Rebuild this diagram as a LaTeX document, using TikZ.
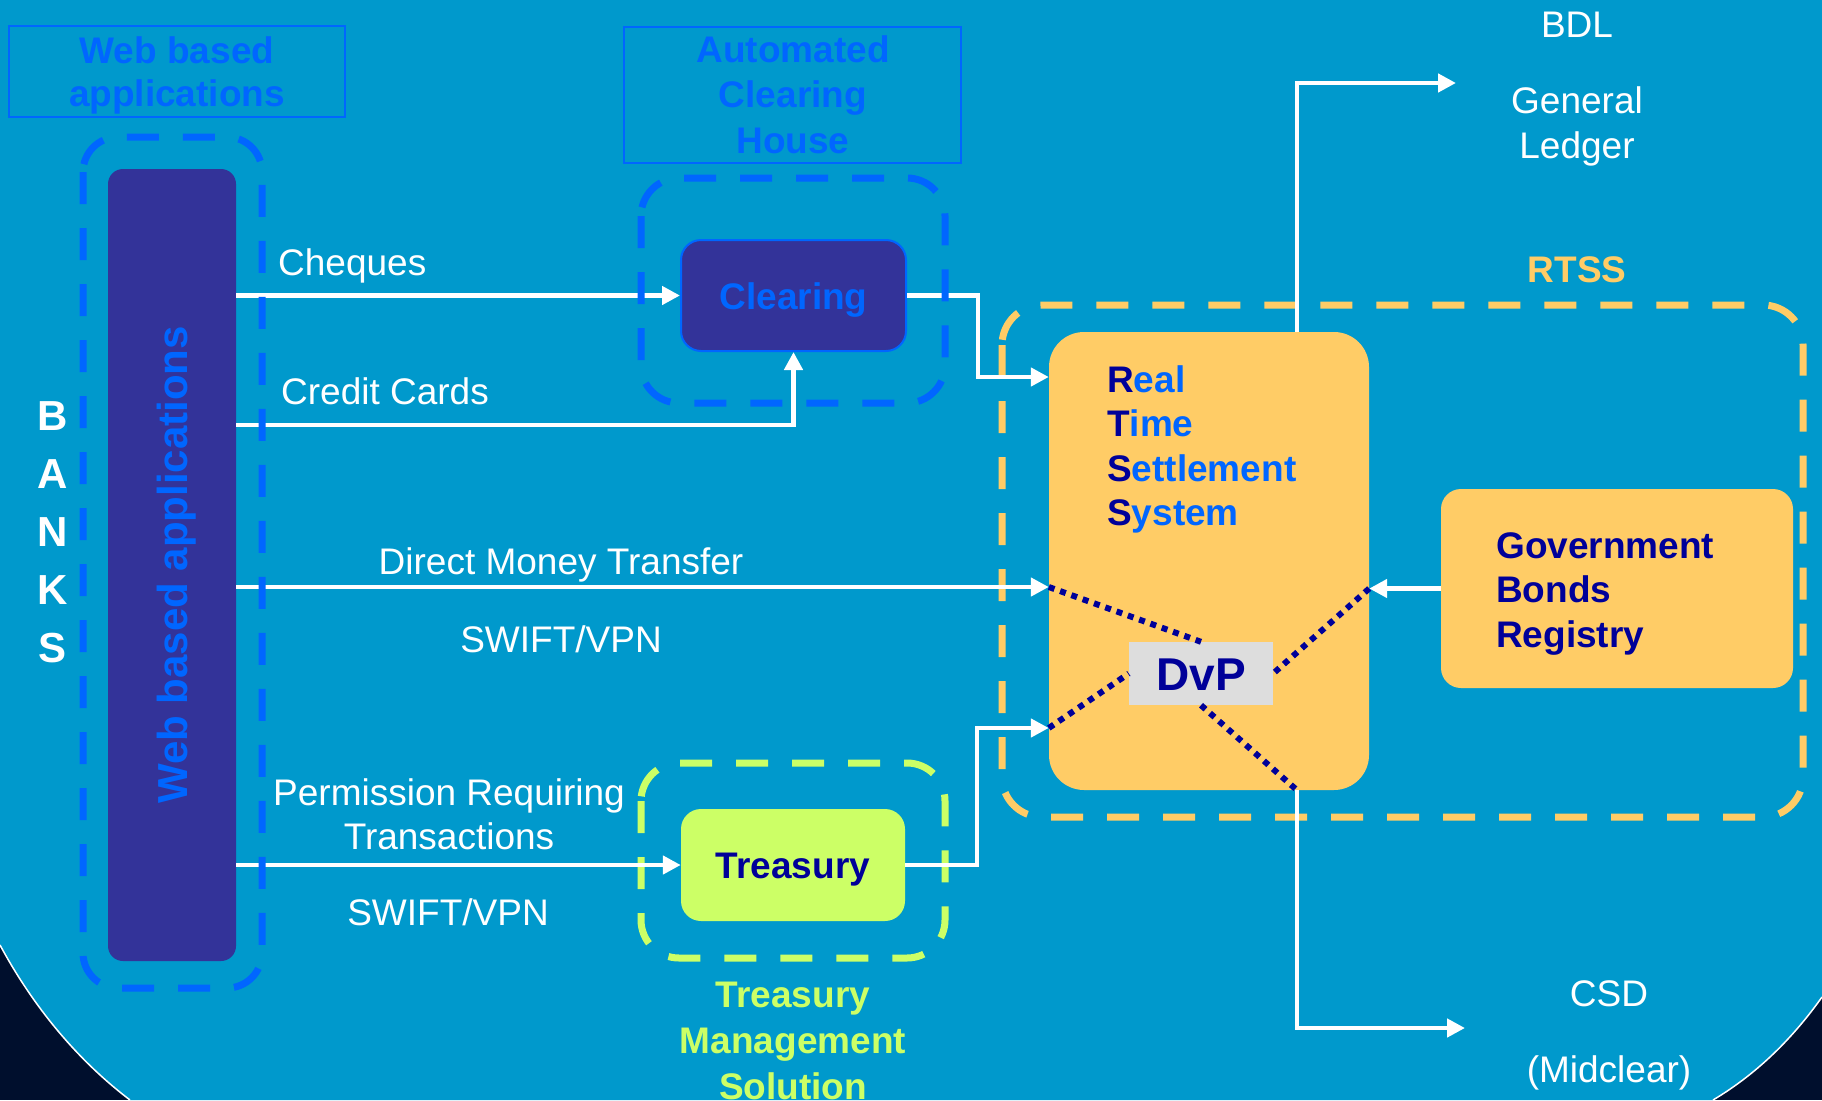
\documentclass[tikz,border=0pt]{standalone}
\usepackage{fontspec}
\setmainfont{Liberation Sans}
\usetikzlibrary{arrows.meta}

\definecolor{bgblue}{HTML}{0099CC}
\definecolor{cornerdark}{HTML}{000F2D}
\definecolor{myblue}{HTML}{0066FF}
\definecolor{navy}{HTML}{000099}
\definecolor{appspurple}{HTML}{333399}
\definecolor{rtssorange}{HTML}{FFCC66}
\definecolor{lime}{HTML}{CCFF66}
\definecolor{dvpgray}{HTML}{DDDDDD}

% fixes the height of the first line of a multi-line label
\newcommand{\firstline}{\rule{0pt}{30pt}}

\tikzset{
  txt/.style={font=\fontsize{37}{45}\selectfont, text=white, inner sep=0pt},
  boldtxt/.style={font=\bfseries\fontsize{37}{44.5}\selectfont, inner sep=0pt},
  titlebox/.style={draw=myblue, line width=2pt, inner sep=0pt},
  dashbox/.style={line width=7pt, dash pattern=on 32pt off 24pt},
  conn/.style={draw=white, line width=4.5pt, -{Triangle[length=18pt,width=18pt]}},
  dotline/.style={draw=navy, line width=6pt, dash pattern=on 6pt off 6pt},
  boxnode/.style={inner sep=0pt, text height=27pt, text depth=0pt,
                  font=\bfseries\fontsize{37}{44.5}\selectfont}
}

\begin{document}
\begin{tikzpicture}[x=1pt, y=-1pt]
\useasboundingbox (0,0) rectangle (1822,1100);

% slide background with rounded lower corners
\fill[cornerdark] (0,0) rectangle (1822,1100);
\fill[bgblue] (0,0) -- (1822,0) -- (1822,997)
  .. controls (1795,1035) and (1760,1072) .. (1713,1100) -- (130,1100)
  .. controls (80,1062) and (35,1010) .. (0,945) -- cycle;
\draw[white, line width=1.5pt] (1822,997) .. controls (1795,1035) and (1760,1072) .. (1713,1100);
\draw[white, line width=1.5pt] (130,1100) .. controls (80,1062) and (35,1010) .. (0,945);

% heading boxes
\node[titlebox, minimum width=336pt, minimum height=91pt] (wbtitle) at (177,71.5) {};
\node[boldtxt, text=myblue, align=center, anchor=north, font=\bfseries\fontsize{37}{43}\selectfont]
  (wbtitletext) at (177,33) {\firstline Web based\\applications};
\node[titlebox, minimum width=337pt, minimum height=136pt] (achtitle) at (792.5,95) {};
\node[boldtxt, text=myblue, align=center, anchor=north, font=\bfseries\fontsize{37}{45.5}\selectfont]
  (achtitletext) at (793,32) {\firstline Automated\\Clearing\\House};

% RTSS and treasury frames (under the connectors)
\draw[dashbox, draw=rtssorange, rounded corners=40pt] (1002,305) rectangle (1803,817);
\draw[dashbox, draw=lime, rounded corners=38pt] (641,763) rectangle (945,958);

% main blocks
\node[fill=appspurple, rounded corners=15pt, minimum width=128pt, minimum height=792pt, inner sep=0pt]
  (apps) at (172,565) {};
\node[rotate=90, font=\bfseries\fontsize{42}{50}\selectfont, text=myblue, inner sep=0pt]
  (appslabel) at (177,565) {Web based applications};
\node[boxnode, fill=appspurple, draw=myblue, line width=2pt, rounded corners=20pt,
  minimum width=225pt, minimum height=111pt, text=myblue] (clearing) at (793.5,295.5) {Clearing};
\node[boxnode, fill=lime, rounded corners=20pt, minimum width=224pt, minimum height=112pt,
  text=navy] (treasury) at (793,865) {Treasury};
\node[fill=rtssorange, rounded corners=35pt, minimum width=320pt, minimum height=458pt, inner sep=0pt]
  (rtss) at (1209,561) {};
\node[boldtxt, text=myblue, align=left, anchor=north west] (rtsstext) at (1107,362)
  {\firstline\textcolor{navy}{R}eal\\\textcolor{navy}{T}ime\\\textcolor{navy}{S}ettlement\\\textcolor{navy}{S}ystem};
\node[fill=rtssorange, rounded corners=20pt, minimum width=352pt, minimum height=199pt, inner sep=0pt]
  (gbr) at (1617,588.5) {};
\node[boldtxt, text=navy, align=left, anchor=north west] (gbrtext) at (1496,528)
  {\firstline Government\\Bonds\\Registry};
\node[fill=dvpgray, minimum width=144pt, minimum height=63pt, inner sep=0pt, text=navy,
  text height=33pt, text depth=0pt, font=\bfseries\fontsize{46}{54}\selectfont] (dvp) at (1201,673.5) {DvP};

% outside systems
\coordinate (glin) at (1456,83);
\coordinate (csdin) at (1465,1028);
\node[txt, anchor=base] (bdl) at (1577,37) {BDL};
\node[txt, align=center, anchor=north] (gl) at (1577,83) {\firstline General\\Ledger};
\node[boldtxt, text=rtssorange, anchor=base] (rtsslabel) at (1577,282) {RTSS};
\node[txt, anchor=base] (csd) at (1609,1006) {CSD};
\node[txt, anchor=base] (midclear) at (1609,1082) {(Midclear)};
\node[boldtxt, text=lime, align=center, anchor=north, font=\bfseries\fontsize{37}{46}\selectfont]
  (tmslabel) at (793,977) {\firstline Treasury\\Management\\Solution};
\node[font=\bfseries\fontsize{42}{58}\selectfont, text=white, align=center, anchor=north, inner sep=0pt]
  (banks) at (53,400) {\firstline B\\A\\N\\K\\S};

% flow labels
\node[txt, anchor=base west] (cheqlbl) at (278,275) {Cheques};
\node[txt, anchor=base west] (cardlbl) at (281,404) {Credit Cards};
\node[txt, anchor=base] (dmtlbl) at (561,574) {Direct Money Transfer};
\node[txt, anchor=base] (swift1) at (561,652) {SWIFT/VPN};
\node[txt, align=center, anchor=north, font=\fontsize{37}{44}\selectfont] (permlbl) at (449,775)
  {\firstline Permission Requiring\\Transactions};
\node[txt, anchor=base] (swift2) at (448,925) {SWIFT/VPN};

% connectors
\draw[conn] (apps.east |- clearing.west) -- (clearing.west);
\draw[conn] (apps.east |- 0,425) -| (clearing.south);
\draw[conn] (clearing.east) -- ++(71,0) |- (rtss.west |- 0,377);
\draw[conn] (apps.east |- 0,587) -- (rtss.west |- 0,587);
\draw[conn] (apps.east |- treasury.west) -- (treasury.west);
\draw[conn] (treasury.east) -- ++(72,0) |- (rtss.west |- 0,728);
\draw[conn] (gbr.west) -- (rtss.east |- gbr.west);
\draw[conn] (rtss.north -| 1297,0) |- (glin);
\draw[conn] (rtss.south -| 1297,0) |- (csdin);

% delivery versus payment links
\draw[dotline] (rtss.west |- 0,587) -- (dvp.north);
\draw[dotline] (rtss.west |- 0,728) -- (dvp.west);
\draw[dotline] (rtss.east |- gbr.west) -- (dvp.east);
\draw[dotline] (dvp.south) -- (rtss.south -| 1297,0);

% bank and clearing frames (over the connectors)
\draw[dashbox, draw=myblue, rounded corners=35pt] (83,137) rectangle (262,988);
\draw[dashbox, draw=myblue, rounded corners=38pt] (641,178) rectangle (945,403);
\end{tikzpicture}
\end{document}
